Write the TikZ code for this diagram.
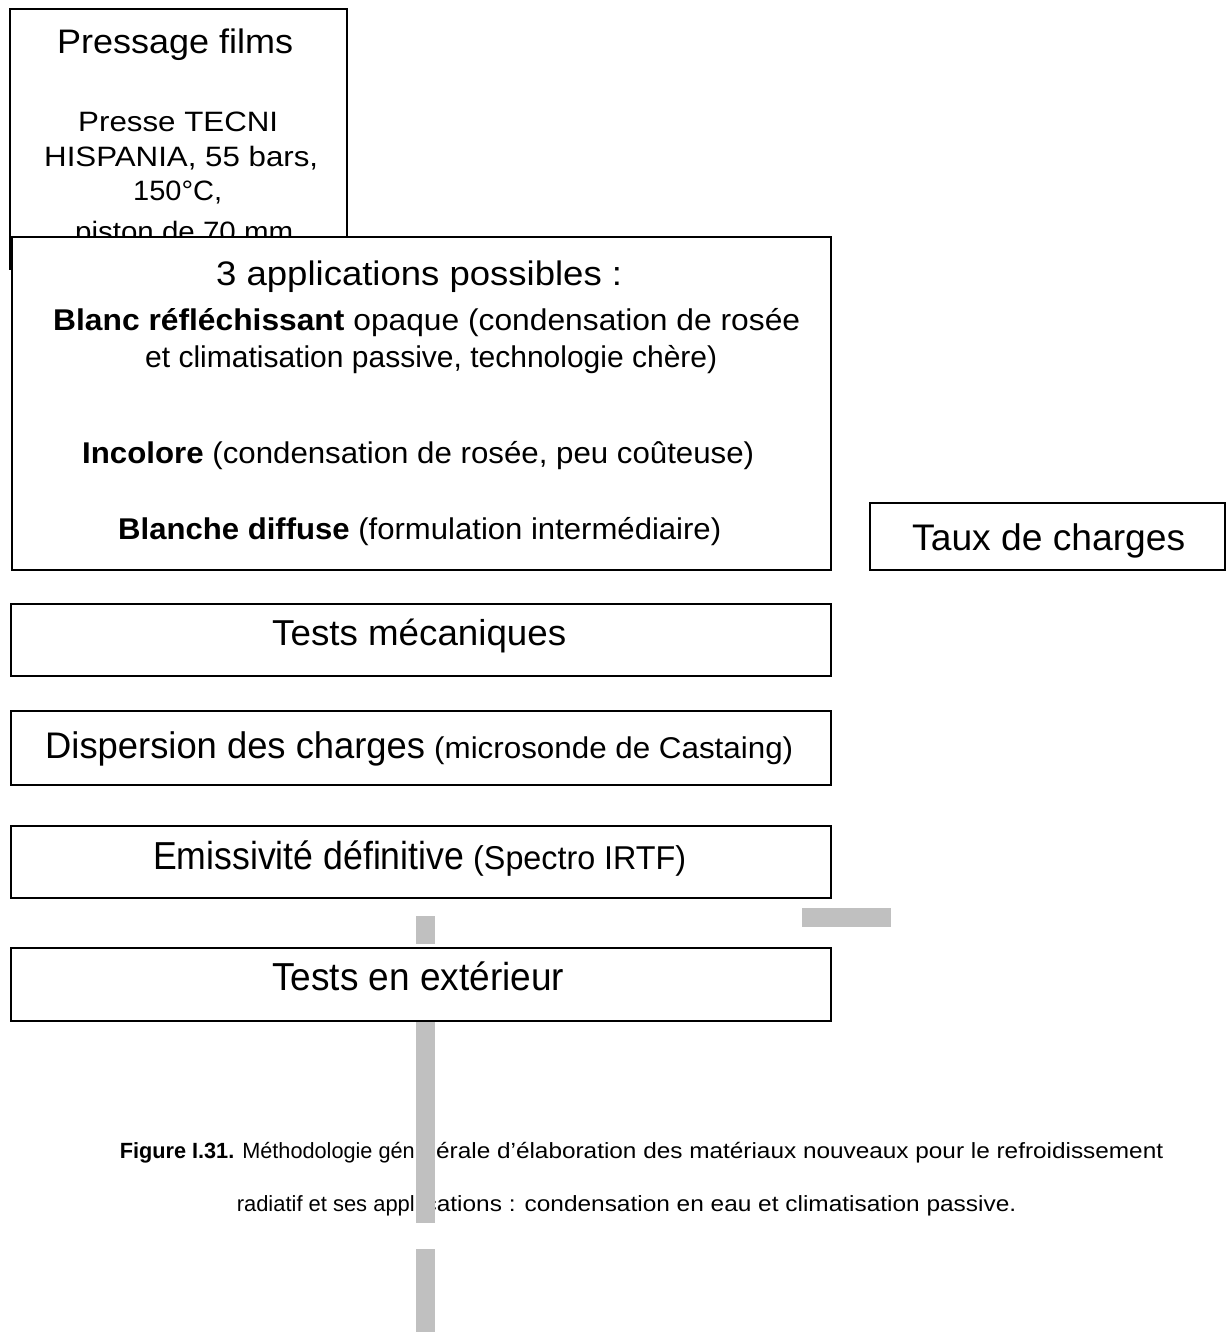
\documentclass[tikz,border=0pt]{standalone}
\usepackage{fontspec}
\setmainfont{Liberation Sans}
\usepackage{graphicx}
\newcommand\fsz[1]{\fontsize{#1}{#1}\selectfont}
\newcommand\fitw[2]{\resizebox{#1pt}{\height}{#2}}
\newcommand\capt[2]{\fsz{22}\fitw{#1}{#2}}
\definecolor{barc}{RGB}{192,192,192}
\tikzset{
  box/.style={draw=black, line width=2pt, fill=white, inner sep=0pt, anchor=north west},
  txt/.style={anchor=base west, inner sep=0pt},
  txtr/.style={anchor=base east, inner sep=0pt},
  bar/.style={fill=barc, draw=none}
}
\begin{document}
\begin{tikzpicture}[x=1pt,y=-1pt]
\useasboundingbox (0,0) rectangle (1226,1332);
% box 1
\node[box, minimum width=337, minimum height=260] (press) at (9,8) {};
\node[txt] (t1a) at (57,54) {\fsz{34}\fitw{236}{Pressage films}};
\node[txt] (t1b) at (78,132) {\fsz{28}\fitw{200}{Presse TECNI}};
\node[txt] (t1c) at (44,167) {\fsz{28}\fitw{274}{HISPANIA, 55 bars,}};
\node[txt] (t1d) at (133,201) {\fsz{28}\fitw{89}{150°C,}};
\node[txt] (t1e) at (75,241) {\fsz{28}\fitw{218}{piston de 70 mm}};
% box 2
\node[box, minimum width=819, minimum height=333] (apps) at (11,236) {};
\node[txt] (t2a) at (216,285) {\fsz{34}\fitw{406}{3 applications possibles :}};
\node[txt] (t2b) at (53,330) {\fsz{30}\fitw{747}{\textbf{Blanc réfléchissant} opaque (condensation de rosée}};
\node[txt] (t2c) at (145,367) {\fsz{30}\fitw{572}{et climatisation passive, technologie chère)}};
\node[txt] (t2d) at (82,463) {\fsz{30}\fitw{672}{\textbf{Incolore} (condensation de rosée, peu coûteuse)}};
\node[txt] (t2e) at (118,539) {\fsz{30}\fitw{603}{\textbf{Blanche diffuse} (formulation intermédiaire)}};
% taux
\node[box, minimum width=355, minimum height=67] (taux) at (869,502) {};
\node[txt] (t3) at (912,550) {\fsz{37}\fitw{273}{Taux de charges}};
% tests mecaniques
\node[box, minimum width=820, minimum height=72] (meca) at (10,603) {};
\node[txt] (t4) at (272,645) {\fsz{36}\fitw{294}{Tests mécaniques}};
% dispersion
\node[box, minimum width=820, minimum height=74] (disp) at (10,710) {};
\node[txt] (t5a) at (45,758) {\fsz{37}\fitw{380}{Dispersion des charges}};
\node[txt] (t5b) at (434,758) {\fsz{30}\fitw{359}{(microsonde de Castaing)}};
% emissivite
\node[box, minimum width=820, minimum height=72] (emis) at (10,825) {};
\node[txt] (t6a) at (153,869) {\fsz{39}\fitw{311}{Emissivité définitive}};
\node[txt] (t6b) at (473,869) {\fsz{33}\fitw{213}{(Spectro IRTF)}};
% tests exterieur
\node[box, minimum width=820, minimum height=73] (ext) at (10,947) {};
\node[txt] (t7) at (272,990) {\fsz{39}\fitw{292}{Tests en extérieur}};
% caption
\node[txtr] (cap1a) at (415,1158) {\capt{295}{\textbf{Figure I.31.} Méthodologie gén}};
\node[txt] (cap1b) at (436,1158) {\capt{727}{érale d’élaboration des matériaux nouveaux pour le refroidissement}};
\node[txtr] (cap2a) at (415,1211) {\capt{178}{radiatif et ses appl}};
\node[txt] (cap2b) at (419,1211) {\capt{597}{ications : condensation en eau et climatisation passive.}};
% gray bars
\fill[bar] (416,916) rectangle (435,944);
\fill[bar] (416,1022) rectangle (435,1223);
\fill[bar] (416,1249) rectangle (435,1332);
\fill[bar] (802,908) rectangle (891,927);
\end{tikzpicture}
\end{document}
